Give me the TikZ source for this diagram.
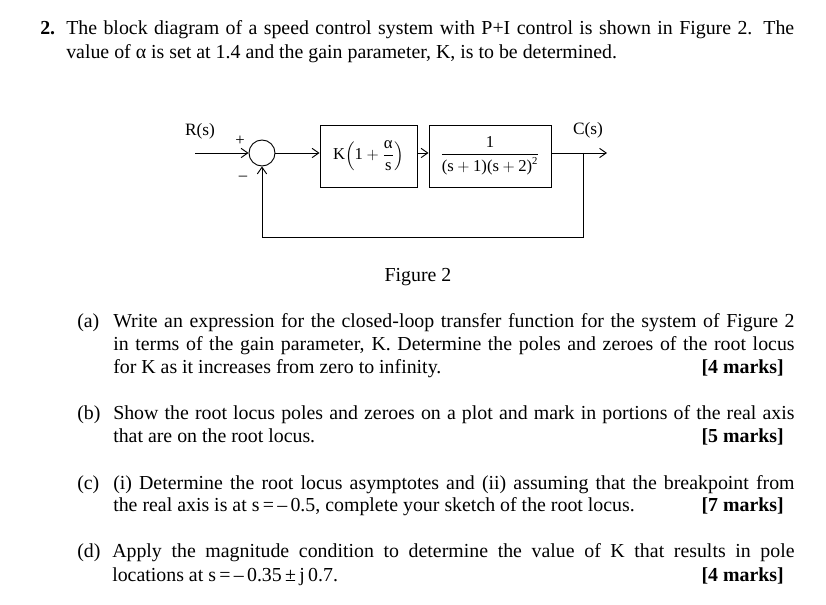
\documentclass[tikz,border=0pt]{standalone}
\usepackage{amsmath}
\usepackage{fontspec}
\setmainfont{Liberation Serif}
\usetikzlibrary{arrows.meta}
\newcommand{\jl}[2]{\makebox[#1][s]{#2}}
\newcommand{\tx}[1]{\mbox{#1}}
\begin{document}
\begin{tikzpicture}[x=0.75pt,y=-0.75pt,
  txt/.style={anchor=base west,inner sep=0pt,font=\fontsize{14.9}{17}\selectfont},
  mk/.style={anchor=base east,inner sep=0pt,font=\fontsize{14.9}{17}\selectfont\bfseries},
  blk/.style={draw,line width=0.7pt,inner sep=0pt},
  lab/.style={inner sep=0pt,font=\fontsize{12.5}{14}\selectfont},
  arr/.style={-{Straight Barb[length=5pt,width=7pt]},line width=0.7pt},
  ln/.style={line width=0.7pt}]
\useasboundingbox (0,0) rectangle (826,605);
% header
\node[txt] (n2) at (40,35) {\textbf{2.}};
\node[txt] (h1) at (66,35) {\jl{546pt}{The block diagram of a speed control system with P+I control is shown in Figure 2. The}};
\node[txt] (h2) at (66,59) {value of α is set at 1.4 and the gain parameter, K, is to be determined.};
% diagram
\node[draw,circle,line width=0.7pt,minimum size=19.5pt,inner sep=0pt] (sum) at (262,153) {};
\node[blk,minimum width=72.75pt,minimum height=46.5pt] (b1) at (368.5,156) {};
\node[lab] (t1) at (368.5,156) {$\tx{K}\!\left(\tx{1}+\dfrac{\tx{α}}{\tx{s}}\right)$};
\node[blk,minimum width=91.5pt,minimum height=46.5pt] (b2) at (490,156) {};
\node[lab] (t2) at (490,156) {$\dfrac{\tx{1}}{\tx{(s}+\tx{1)(s}+\tx{2)}^{\tx{\footnotesize 2}}}$};
\coordinate (in) at (195,153);
\coordinate (out) at (607,153);
\coordinate (tap) at (583,153);
\coordinate (bot) at (583,237);
\coordinate (botl) at (262,237);
\draw[arr] (in) -- (sum.west);
\draw[arr] (sum.east) -- (b1.west |- sum);
\draw[arr] (b1.east |- sum) -- (b2.west |- sum);
\draw[arr] (b2.east |- sum) -- (out);
\draw[ln] (tap) -- (bot) -- (botl);
\draw[arr] (botl) -- (sum.south);
\node[lab,font=\fontsize{13}{15}\selectfont] (r) at (200,131) {R(s)};
\node[lab,font=\fontsize{13}{15}\selectfont] (c) at (588,130) {C(s)};
\node[lab] (p) at (240,141) {+};
\node[lab] (m) at (243,178) {–};
\node[txt,anchor=base] (fig) at (418,282) {Figure 2};
% questions
\node[txt] at (77,328) {(a)};
\node[txt] at (113,328) {\jl{511pt}{Write an expression for the closed-loop transfer function for the system of Figure 2}};
\node[txt] at (113,351) {\jl{511pt}{in terms of the gain parameter, K. Determine the poles and zeroes of the root locus}};
\node[txt] at (113,374) {for K as it increases from zero to infinity.};
\node[mk] at (784,374) {[4 marks]};
\node[txt] at (77,420) {(b)};
\node[txt] at (113,420) {\jl{511pt}{Show the root locus poles and zeroes on a plot and mark in portions of the real axis}};
\node[txt] at (113,443) {that are on the root locus.};
\node[mk] at (784,443) {[5 marks]};
\node[txt] at (77,490) {(c)};
\node[txt] at (113,490) {\jl{511pt}{(i) Determine the root locus asymptotes and (ii) assuming that the breakpoint from}};
\node[txt] at (113,512) {the real axis is at s\,=\,–\,0.5, complete your sketch of the root locus.};
\node[mk] at (784,512) {[7 marks]};
\node[txt] at (77,558) {(d)};
\node[txt] at (112,558) {\jl{511.75pt}{Apply the magnitude condition to determine the value of K that results in pole}};
\node[txt] at (112,582) {locations at s\,=\,–\,0.35\,±\,j\,0.7.};
\node[mk] at (784,582) {[4 marks]};
\end{tikzpicture}
\end{document}
